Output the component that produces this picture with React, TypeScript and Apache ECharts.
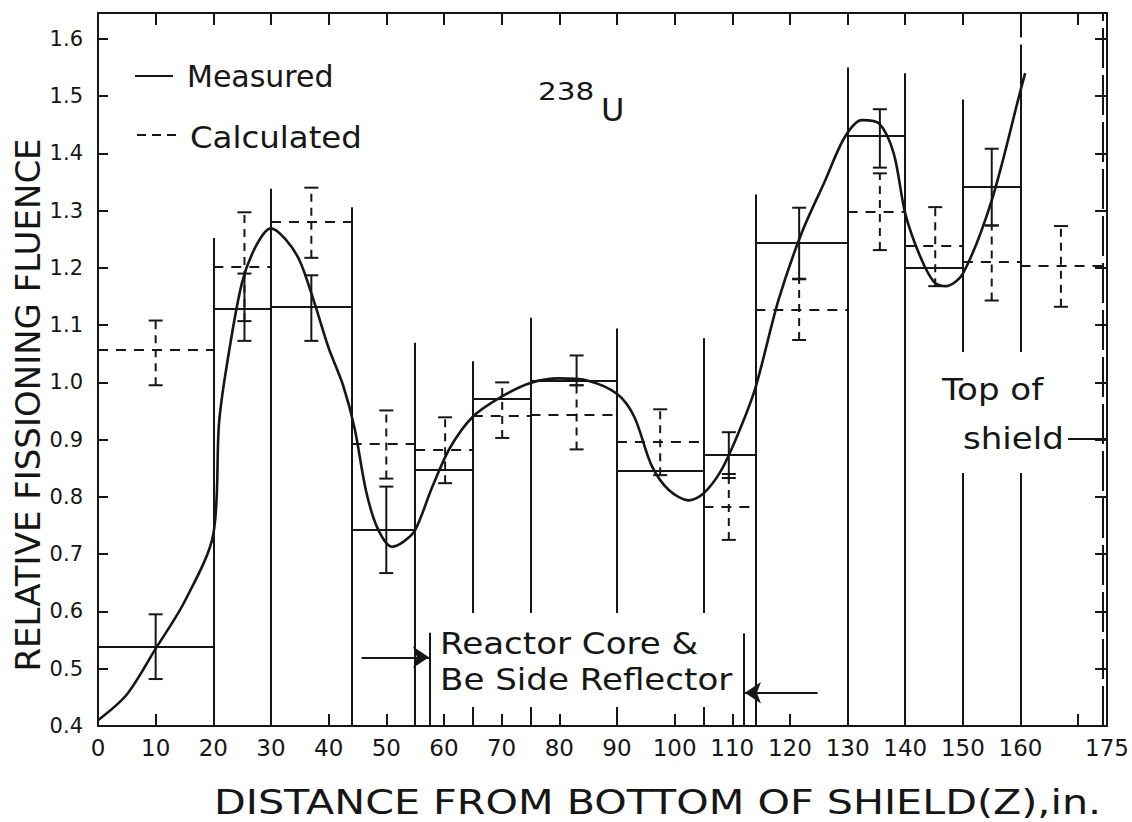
import React, { useEffect, useRef } from 'react';
import * as echarts from 'echarts';

const FONT = 'DejaVu Sans';
const INK = '#161616';

// Bin edges of the histograms (inches)
const measuredEdges = [0, 20, 30, 44, 55, 65, 75, 90, 105, 114, 130, 140, 150, 160];
const measuredSteps = [0.539, 1.128, 1.132, 0.742, 0.848, 0.971, 1.002, 0.846, 0.873, 1.244, 1.43, 1.2, 1.341];
const calculatedEdges = [0, 20, 30, 44, 55, 65, 75, 90, 105, 114, 130, 140, 150, 160, 174.3];
const calculatedSteps = [1.057, 1.202, 1.281, 0.892, 0.882, 0.942, 0.943, 0.896, 0.782, 1.126, 1.298, 1.238, 1.21, 1.203];

// Vertical divider lines between the bins
const dividerX = [20, 30, 44, 55, 65, 75, 90, 105, 114, 130, 140, 150, 160];
const dividerTop = [1.252, 1.338, 1.306, 1.069, 1.037, 1.113, 1.094, 1.077, 1.328, 1.55, 1.54, 1.494, 1.52];

// Error bars
const measErrX = [10, 25.4, 37, 50, 83, 109.4, 121.6, 135.6, 155];
const measErrLo = [0.482, 1.0725, 1.0725, 0.667, 0.995, 0.833, 1.181, 1.375, 1.274];
const measErrHi = [0.595, 1.19, 1.187, 0.818, 1.047, 0.913, 1.305, 1.477, 1.408];
const calcErrX = [10, 25.4, 37, 50, 60.2, 70.1, 83, 97.5, 109.4, 121.6, 135.6, 145.2, 155, 167];
const calcErrLo = [0.995, 1.107, 1.2175, 0.832, 0.824, 0.903, 0.883, 0.838, 0.725, 1.074, 1.231, 1.168, 1.143, 1.132];
const calcErrHi = [1.108, 1.297, 1.34, 0.951, 0.939, 1.0, 0.995, 0.953, 0.84, 1.18, 1.365, 1.306, 1.274, 1.273];

// Smooth measured curve
const curveX = [0, 5, 10, 15, 20, 21, 22.5, 25, 27.5, 30, 32.5, 35, 37.5, 40, 42.5, 44.5, 46.5, 48.5, 51, 53, 55, 58, 61, 65, 70, 75, 80, 85, 90, 93, 96, 99, 102.5, 105, 108, 111, 114, 118, 122, 126, 129.5, 132.5, 135.5, 138, 140, 142.5, 145, 147, 150, 155, 160, 160.8];
const curveY = [0.41, 0.455, 0.535, 0.617, 0.735, 0.93, 1.04, 1.175, 1.24, 1.269, 1.25, 1.212, 1.14, 1.06, 0.995, 0.92, 0.81, 0.745, 0.713, 0.722, 0.742, 0.818, 0.885, 0.94, 0.975, 0.999, 1.007, 1.003, 0.98, 0.94, 0.855, 0.812, 0.794, 0.806, 0.845, 0.91, 0.99, 1.143, 1.26, 1.35, 1.428, 1.458, 1.452, 1.4, 1.295, 1.222, 1.175, 1.168, 1.19, 1.318, 1.51, 1.54];

// Axis tick labels
const xTickLabels = [0, 10, 20, 30, 40, 50, 60, 70, 80, 90, 100, 110, 120, 130, 140, 150, 160, 175];
const yTickLabels = ['0.4', '0.5', '0.6', '0.7', '0.8', '0.9', '1.0', '1.1', '1.2', '1.3', '1.4', '1.5', '1.6'];

// Reactor core annotation (data coordinates)
const coreBracketX = [57.6, 112];
const coreBracketTop = [0.563, 0.562];
const arrowFrom = [[45.7, 0.52], [124.8, 0.458]];
const arrowTo = [[57.4, 0.52], [112.2, 0.458]];
const shieldX = 174.3;

const Y_MIN = 0.4;
const Y_MAX = 1.645;

function stepCoords(edges: number[], vals: number[]) {
  return vals.map((v, i) => ({ coords: [[edges[i], v], [edges[i + 1], v]] }));
}

function errRender(dashed: boolean) {
  return (params: any, api: any) => {
    const x = api.value(0);
    const lo = api.value(1);
    const hi = api.value(2);
    const p1 = api.coord([x, lo]);
    const p2 = api.coord([x, hi]);
    const w = 7;
    const stem = { stroke: INK, lineWidth: 2, fill: null, lineDash: dashed ? [8, 6] : null };
    const cap = { stroke: INK, lineWidth: 2, fill: null };
    return {
      type: 'group',
      children: [
        { type: 'line', shape: { x1: p1[0], y1: p1[1], x2: p2[0], y2: p2[1] }, style: stem },
        { type: 'line', shape: { x1: p1[0] - w, y1: p1[1], x2: p1[0] + w, y2: p1[1] }, style: cap },
        { type: 'line', shape: { x1: p2[0] - w, y1: p2[1], x2: p2[0] + w, y2: p2[1] }, style: cap },
      ],
    };
  };
}

function txt(text: string, x: number, y: number, size: number, opts: any = {}) {
  const align = opts.align || 'left';
  return {
    type: 'text',
    x,
    y,
    z: 60,
    rotation: opts.rotation || 0,
    scaleX: opts.scaleX || 1,
    style: {
      text,
      fontSize: size,
      fontFamily: FONT,
      fill: INK,
      align,
      verticalAlign: 'middle',
      textAlign: align,
      textVerticalAlign: 'middle',
    },
  };
}

export default function App() {
  const ref = useRef<HTMLDivElement>(null);

  useEffect(() => {
    if (!ref.current) return;
    const chart = echarts.init(ref.current, undefined, { renderer: 'svg' });

    const axisLine = { show: true, onZero: false, lineStyle: { color: INK, width: 2 } };
    const tick = { show: true, inside: true, length: 12, lineStyle: { color: INK, width: 2 } };

    const option: any = {
      animation: false,
      backgroundColor: '#ffffff',
      textStyle: { fontFamily: FONT },
      grid: { left: 98, right: 21, top: 13, bottom: 96, containLabel: false },
      xAxis: [
        {
          type: 'value', min: 0, max: 175, interval: 10, position: 'bottom',
          axisLine, axisTick: tick, splitLine: { show: false },
          axisLabel: {
            show: true, margin: 10, fontSize: 23, color: INK, fontFamily: FONT,
            showMinLabel: true, showMaxLabel: true,
            formatter: (v: number) => (xTickLabels.indexOf(Math.round(v)) >= 0 && Math.abs(v - Math.round(v)) < 1e-6 ? String(Math.round(v)) : ''),
          },
        },
        {
          type: 'value', min: 0, max: 175, interval: 10, position: 'top',
          axisLine, axisTick: tick, splitLine: { show: false }, axisLabel: { show: false },
        },
      ],
      yAxis: [
        {
          type: 'value', min: Y_MIN, max: Y_MAX, interval: 0.1, position: 'left',
          axisLine, axisTick: { ...tick, length: 10 }, splitLine: { show: false },
          axisLabel: {
            show: true, margin: 15, fontSize: 21, color: INK, fontFamily: FONT,
            formatter: (v: number) => {
              const s = v.toFixed(1);
              return yTickLabels.indexOf(s) >= 0 && Math.abs(v - parseFloat(s)) < 1e-6 ? s : '';
            },
          },
        },
        {
          type: 'value', min: Y_MIN, max: Y_MAX, interval: 0.1, position: 'right',
          axisLine, axisTick: { ...tick, length: 12 }, splitLine: { show: false }, axisLabel: { show: false },
        },
      ],
      series: [
        {
          type: 'lines', coordinateSystem: 'cartesian2d', name: 'dividers', z: 2,
          lineStyle: { color: INK, width: 2, opacity: 1 },
          data: dividerX.map((x, i) => ({ coords: [[x, Y_MIN], [x, dividerTop[i]]] })),
        },
        {
          type: 'lines', coordinateSystem: 'cartesian2d', name: 'dividersDashed', z: 2,
          lineStyle: { color: INK, width: 2, opacity: 1, type: [40, 7] },
          data: [
            { coords: [[160, 1.52], [160, Y_MAX]] },
            { coords: [[shieldX, Y_MIN], [shieldX, Y_MAX]] },
          ],
        },
        {
          type: 'lines', coordinateSystem: 'cartesian2d', name: 'Measured steps', z: 3,
          lineStyle: { color: INK, width: 2, opacity: 1 },
          data: stepCoords(measuredEdges, measuredSteps),
        },
        {
          type: 'lines', coordinateSystem: 'cartesian2d', name: 'Calculated steps', z: 3,
          lineStyle: { color: INK, width: 2, opacity: 1, type: [10, 8] },
          data: stepCoords(calculatedEdges, calculatedSteps),
        },
        {
          type: 'line', name: 'Measured', z: 4, symbol: 'none', smooth: 0.3,
          lineStyle: { color: INK, width: 2.6 },
          data: curveX.map((x, i) => [x, curveY[i]]),
        },
        {
          type: 'custom', name: 'measErr', z: 5,
          renderItem: errRender(false),
          encode: { x: 0, y: [1, 2] },
          data: measErrX.map((x, i) => [x, measErrLo[i], measErrHi[i]]),
        },
        {
          type: 'custom', name: 'calcErr', z: 5,
          renderItem: errRender(true),
          encode: { x: 0, y: [1, 2] },
          data: calcErrX.map((x, i) => [x, calcErrLo[i], calcErrHi[i]]),
        },
        {
          type: 'lines', coordinateSystem: 'cartesian2d', name: 'core brackets', z: 70,
          lineStyle: { color: INK, width: 2, opacity: 1 },
          data: coreBracketX.map((x, i) => ({ coords: [[x, Y_MIN], [x, coreBracketTop[i]]] })),
        },
        {
          type: 'lines', coordinateSystem: 'cartesian2d', name: 'core arrows', z: 70,
          symbol: ['none', 'arrow'], symbolSize: [12, 16],
          lineStyle: { color: INK, width: 2, opacity: 1 },
          itemStyle: { color: INK },
          data: arrowFrom.map((p, i) => ({ coords: [p, arrowTo[i]] })),
        },
      ],
      graphic: [
        // white boxes behind annotation texts
        { type: 'rect', z: 50, shape: { x: 437, y: 613, width: 306, height: 94 }, style: { fill: '#ffffff' } },
        { type: 'rect', z: 50, shape: { x: 940, y: 352, width: 132, height: 121 }, style: { fill: '#ffffff' } },
        // legend
        { type: 'line', z: 60, shape: { x1: 135, y1: 76, x2: 173, y2: 76 }, style: { stroke: INK, lineWidth: 2 } },
        { type: 'line', z: 60, shape: { x1: 137, y1: 135, x2: 176, y2: 135 }, style: { stroke: INK, lineWidth: 2, lineDash: [9, 6] } },
        txt('Measured', 187, 76, 30),
        txt('Calculated', 190, 137, 30, { scaleX: 1.08 }),
        // isotope label
        txt('238', 538, 91, 25, { scaleX: 1.18 }),
        txt('U', 601, 110, 32),
        // reactor core annotation
        txt('Reactor Core &', 440, 644, 31, { scaleX: 1.1 }),
        txt('Be Side Reflector', 440, 680, 31, { scaleX: 1.1 }),
        // top of shield annotation
        txt('Top of', 942, 390, 31, { scaleX: 1.1 }),
        txt('shield', 963, 439, 31, { scaleX: 1.1 }),
        { type: 'line', z: 60, shape: { x1: 1068, y1: 439, x2: 1106, y2: 439 }, style: { stroke: INK, lineWidth: 2 } },
        // axis titles
        txt('DISTANCE FROM BOTTOM OF SHIELD(Z),in.', 214, 803, 33, { scaleX: 1.25 }),
        txt('RELATIVE FISSIONING FLUENCE', 28, 405, 34, { align: 'center', rotation: Math.PI / 2 }),
      ],
    };

    chart.setOption(option);
    return () => chart.dispose();
  }, []);

  return <div ref={ref} style={{ position: 'absolute', left: 0, top: 0, width: 1132, height: 822, background: '#fff' }} />;
}
